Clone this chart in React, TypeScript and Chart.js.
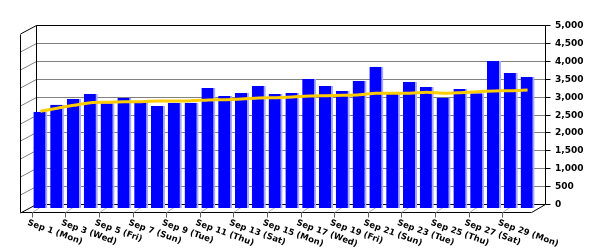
import { useEffect, useRef } from "react";
import { Chart, registerables } from "chart.js";

Chart.register(...registerables);

const CATEGORIES = [
  "Sep 1 (Mon)", "Sep 2 (Tue)", "Sep 3 (Wed)", "Sep 4 (Thu)", "Sep 5 (Fri)",
  "Sep 6 (Sat)", "Sep 7 (Sun)", "Sep 8 (Mon)", "Sep 9 (Tue)", "Sep 10 (Wed)",
  "Sep 11 (Thu)", "Sep 12 (Fri)", "Sep 13 (Sat)", "Sep 14 (Sun)", "Sep 15 (Mon)",
  "Sep 16 (Tue)", "Sep 17 (Wed)", "Sep 18 (Thu)", "Sep 19 (Fri)", "Sep 20 (Sat)",
  "Sep 21 (Sun)", "Sep 22 (Mon)", "Sep 23 (Tue)", "Sep 24 (Wed)", "Sep 25 (Thu)",
  "Sep 26 (Fri)", "Sep 27 (Sat)", "Sep 28 (Sun)", "Sep 29 (Mon)", "Sep 30 (Tue)",
];

const DAILY = [
  2690, 2885, 3045, 3184, 2925, 3081, 2953, 2849, 2941, 2941,
  3352, 3128, 3212, 3408, 3184, 3212, 3603, 3408, 3268, 3547,
  3947, 3184, 3520, 3380, 3081, 3324, 3204, 4106, 3771, 3659,
];

const AVERAGE = [
  2701, 2785, 2869, 2941, 2953, 2969, 2969, 2989, 2989, 2997,
  3017, 3025, 3045, 3073, 3081, 3101, 3128, 3137, 3148, 3165,
  3204, 3204, 3204, 3232, 3204, 3221, 3249, 3268, 3277, 3296,
];

const Y_TICKS = [0, 500, 1000, 1500, 2000, 2500, 3000, 3500, 4000, 4500, 5000];
const Y_TICK_LABELS = ["0", "500", "1,000", "1,500", "2,000", "2,500", "3,000", "3,500", "4,000", "4,500", "5,000"];

const FONT_FAMILY = '"DejaVu Sans", Verdana, sans-serif';

// 3D frame geometry (offsets relative to chart area / scales)
const BACK_DX_LEFT = 4;
const BACK_DX_RIGHT = 9;
const BACK_DY = -4;
const DEPTH_X = 16;
const DEPTH_Y = 8.5;

const framePlugin = {
  id: "frame3d",
  beforeDatasetsDraw(chart: any) {
    const { ctx, chartArea, scales } = chart;
    const ys = scales.y;
    const xs = scales.x;
    const bl = Math.round(chartArea.left + BACK_DX_LEFT) + 0.5;
    const br = Math.round(chartArea.right + BACK_DX_RIGHT) + 0.5;
    const yb = (v: number) => Math.round(ys.getPixelForValue(v) + BACK_DY) + 0.5;
    const fl = bl - DEPTH_X;
    const fr = br - DEPTH_X + 2;
    const y0 = yb(0);
    const yTop = yb(Y_TICKS[Y_TICKS.length - 1]);
    const yFront0 = Math.round(y0 + DEPTH_Y) - 0.5;

    ctx.save();
    ctx.lineWidth = 1;
    Y_TICKS.forEach((v, i) => {
      const yy = yb(v);
      const isEdge = i === 0 || i === Y_TICKS.length - 1;
      ctx.strokeStyle = isEdge ? "#000000" : "#808080";
      ctx.beginPath();
      ctx.moveTo(bl, yy);
      ctx.lineTo(br, yy);
      ctx.stroke();
      ctx.beginPath();
      ctx.moveTo(bl, yy);
      ctx.lineTo(fl, yy + DEPTH_Y);
      ctx.stroke();
    });
    ctx.strokeStyle = "#000000";
    ctx.beginPath();
    ctx.moveTo(bl, yTop);
    ctx.lineTo(bl, y0);
    ctx.stroke();
    ctx.beginPath();
    ctx.moveTo(fl, Math.round(yTop + DEPTH_Y) + 0.5);
    ctx.lineTo(fl, yFront0);
    ctx.stroke();
    ctx.beginPath();
    ctx.moveTo(br, yTop);
    ctx.lineTo(br, y0);
    ctx.stroke();
    ctx.beginPath();
    ctx.moveTo(fl, yFront0);
    ctx.lineTo(fr, yFront0);
    ctx.lineTo(br, y0);
    ctx.stroke();
    Y_TICKS.forEach((v) => {
      const yy = yb(v);
      ctx.beginPath();
      ctx.moveTo(br, yy);
      ctx.lineTo(br + 5, yy);
      ctx.stroke();
    });
    CATEGORIES.forEach((_, i) => {
      if (i % 2 !== 0) return;
      const tx = Math.round(xs.getPixelForValue(i) - 8.6) + 0.5;
      ctx.strokeStyle = "#b0b0b0";
      ctx.beginPath();
      ctx.moveTo(tx, yFront0);
      ctx.lineTo(tx + 12, y0);
      ctx.stroke();
      ctx.strokeStyle = "#606060";
      ctx.beginPath();
      ctx.moveTo(tx, yFront0);
      ctx.lineTo(tx, yFront0 + 5);
      ctx.stroke();
    });
    ctx.restore();
  },
  afterDraw(chart: any) {
    const { ctx, chartArea, scales } = chart;
    const ys = scales.y;
    const xs = scales.x;
    const br = Math.round(chartArea.right + BACK_DX_RIGHT) + 0.5;
    const yb = (v: number) => Math.round(ys.getPixelForValue(v) + BACK_DY) + 0.5;
    const y0 = yb(0);
    const yFront0 = Math.round(y0 + DEPTH_Y) - 0.5;
    ctx.save();
    ctx.fillStyle = "#000000";
    ctx.font = `bold 9px ${FONT_FAMILY}`;
    ctx.textAlign = "left";
    ctx.textBaseline = "middle";
    Y_TICKS.forEach((v, i) => {
      ctx.fillText(Y_TICK_LABELS[i], br + 9.5, yb(v));
    });
    ctx.font = `bold 8.5px ${FONT_FAMILY}`;
    ctx.textBaseline = "top";
    CATEGORIES.forEach((label, i) => {
      if (i % 2 !== 0) return;
      const tx = xs.getPixelForValue(i) - 8.6;
      ctx.save();
      ctx.translate(tx - 2.5, yFront0 + 6);
      ctx.rotate((20 * Math.PI) / 180);
      ctx.fillText(label, 0, 0);
      ctx.restore();
    });
    ctx.restore();
  },
};

export default function App() {
  const canvasRef = useRef<HTMLCanvasElement | null>(null);

  useEffect(() => {
    document.body.style.margin = "0";
    const canvas = canvasRef.current;
    if (!canvas) return;
    const chart = new Chart(canvas, {
      data: {
        labels: CATEGORIES,
        datasets: [
          {
            type: "line",
            data: AVERAGE,
            borderColor: "#FFCC00",
            borderWidth: 3,
            pointRadius: 0,
            tension: 0.3,
            order: 0,
          },
          {
            type: "bar",
            data: DAILY,
            backgroundColor: "#0000FF",
            borderColor: "#A8A8FF",
            borderWidth: { top: 0, left: 0, bottom: 0, right: 2 },
            borderSkipped: false,
            barPercentage: 0.835,
            categoryPercentage: 1,
            order: 1,
          },
        ],
      } as any,
      options: {
        responsive: false,
        animation: false,
        devicePixelRatio: 1,
        layout: { padding: { left: 32, right: 64, top: 29, bottom: 42 } },
        plugins: { legend: { display: false }, tooltip: { enabled: false } },
        scales: {
          x: { display: false, offset: true },
          y: { display: false, min: 0, max: 5000 },
        },
      },
      plugins: [framePlugin],
    });
    return () => chart.destroy();
  }, []);

  return <canvas ref={canvasRef} width={600} height={250} style={{ display: "block" }} />;
}
